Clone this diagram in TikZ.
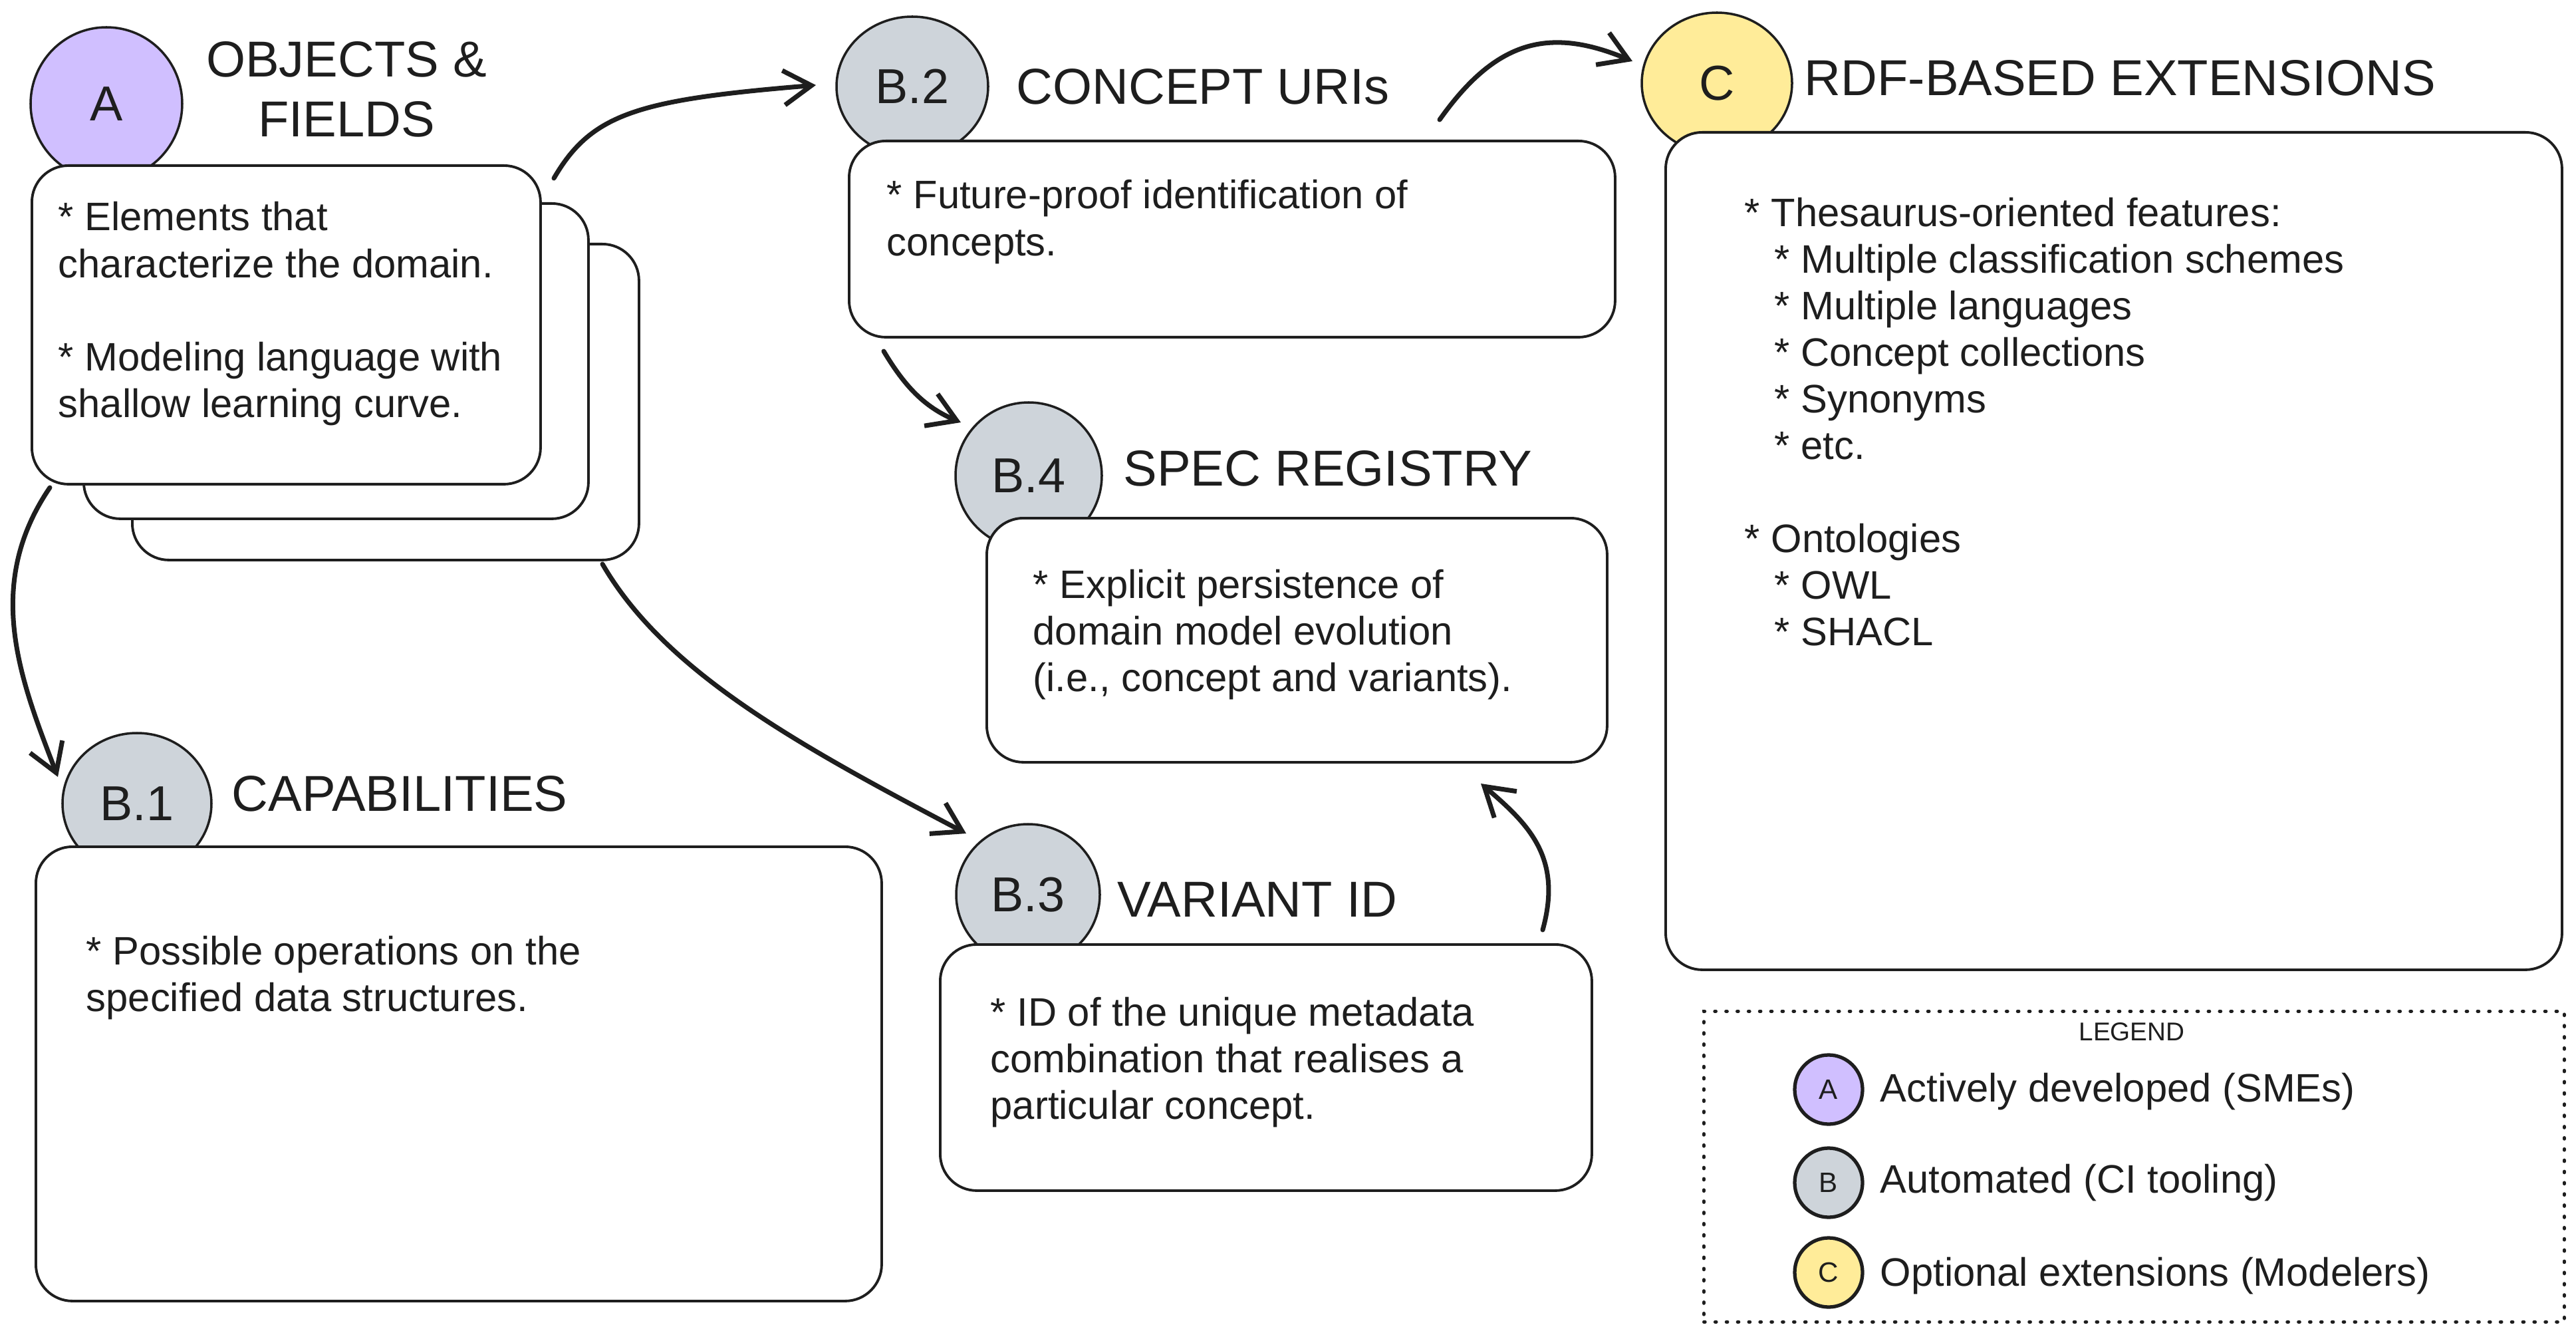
\documentclass[tikz,border=0pt]{standalone}
\usepackage{fontspec}
\setmainfont{Liberation Sans}
\usetikzlibrary{shapes.geometric,arrows.meta}
\definecolor{ink}{HTML}{1E1E1E}
\definecolor{violetA}{HTML}{D0BFFF}
\definecolor{grayB}{HTML}{CED4DA}
\definecolor{yellowC}{HTML}{FFEC99}
\newcommand{\bodyfont}{\fontsize{17}{19.92}\selectfont}
\newcommand{\titlefont}{\fontsize{21.6}{25.6}\selectfont}
\begin{document}
\begin{tikzpicture}[
  card/.style={rectangle, draw=ink, fill=white, line width=1.1pt, rounded corners=0.55cm, anchor=north west, inner sep=0pt},
  badge/.style={ellipse, draw=ink, line width=1pt, inner sep=0pt, text=ink, font=\fontsize{21}{25}\selectfont},
  minibadge/.style={ellipse, draw=ink, line width=1.5pt, inner sep=0pt, minimum width=1.02cm, minimum height=1.04cm, text=ink, font=\fontsize{12}{14}\selectfont},
  title/.style={anchor=base west, inner sep=0pt, text=ink, font=\titlefont},
  body/.style={anchor=north west, inner sep=0pt, align=left, text=ink, font=\bodyfont},
  legtext/.style={anchor=base west, inner sep=0pt, text=ink, font=\bodyfont},
  arr/.style={draw=ink, line width=2pt, line cap=round, line join=round, -{Straight Barb[length=0.42cm, width=0.52cm, line width=2pt]}}
]
\useasboundingbox (0,0) rectangle (38.74,-20.07);
\fill[white] (0,0) rectangle (38.74,-20.07);

% badges (drawn first, cards overlap them)
\node[badge, fill=violetA, minimum width=2.28cm, minimum height=2.30cm] (cA) at (1.60,-1.56) {A};
\node[badge, fill=grayB, minimum width=2.28cm, minimum height=2.10cm] (cB2) at (13.72,-1.30) {B.2};
\node[badge, fill=grayB, minimum width=2.20cm, minimum height=2.20cm] (cB4) at (15.47,-7.15) {B.4};
\node[badge, fill=grayB, minimum width=2.16cm, minimum height=2.12cm] (cB3) at (15.46,-13.45) {B.3};
\node[badge, fill=grayB, minimum width=2.24cm, minimum height=2.12cm] (cB1) at (2.06,-12.08) {B.1};
\node[badge, fill=yellowC, minimum width=2.26cm, minimum height=2.12cm] (cC) at (25.82,-1.25) {C};

% cards
\node[card, minimum width=7.62cm, minimum height=4.75cm] (boxA3) at (1.97,-3.65) {};
\node[card, minimum width=7.59cm, minimum height=4.74cm] (boxA2) at (1.24,-3.04) {};
\node[card, minimum width=7.65cm, minimum height=4.79cm] (boxA1) at (0.46,-2.47) {};
\node[card, minimum width=11.52cm, minimum height=2.95cm] (boxB2) at (12.75,-2.10) {};
\node[card, minimum width=9.33cm, minimum height=3.67cm] (boxB4) at (14.82,-7.77) {};
\node[card, minimum width=9.80cm, minimum height=3.70cm] (boxB3) at (14.12,-14.18) {};
\node[card, minimum width=12.72cm, minimum height=6.83cm] (boxB1) at (0.52,-12.71) {};
\node[card, minimum width=13.48cm, minimum height=12.59cm] (boxC) at (25.03,-1.97) {};

% titles
\node[anchor=north, inner sep=0pt, align=center, text=ink, font=\titlefont] (tiA) at (5.21,-0.62) {OBJECTS \&\\FIELDS};
\node[title] (tiB2) at (15.28,-1.57) {CONCEPT URIs};
\node[title] (tiB4) at (16.89,-7.31) {SPEC REGISTRY};
\node[title] (tiB3) at (16.80,-13.78) {VARIANT ID};
\node[title] (tiB1) at (3.48,-12.19) {CAPABILITIES};
\node[title] (tiC) at (27.13,-1.44) {RDF-BASED EXTENSIONS};

% body texts
\node[body] (tA) at (0.87,-3.03) {* Elements that\\characterize the domain.\\[19.92pt]* Modeling language with\\shallow learning curve.};
\node[body] (tB2) at (13.33,-2.70) {* Future-proof identification of\\concepts.};
\node[body] (tB4) at (15.53,-8.55) {* Explicit persistence of\\domain model evolution\\(i.e., concept and variants).};
\node[body] (tB3) at (14.89,-14.98) {* ID of the unique metadata\\combination that realises a\\particular concept.};
\node[body] (tB1) at (1.29,-14.06) {* Possible operations on the\\specified data structures.};
\node[body] (tC) at (26.23,-2.96) {* Thesaurus-oriented features:\\
\hspace*{0.45cm}* Multiple classification schemes\\
\hspace*{0.45cm}* Multiple languages\\
\hspace*{0.45cm}* Concept collections\\
\hspace*{0.45cm}* Synonyms\\
\hspace*{0.45cm}* etc.\\[19.92pt]
* Ontologies\\
\hspace*{0.45cm}* OWL\\
\hspace*{0.45cm}* SHACL};

% legend
\node[rectangle, draw=ink, line width=1.3pt, dash pattern=on 0.6pt off 4.2pt, line cap=round, anchor=north west, inner sep=0pt, minimum width=12.94cm, minimum height=4.67cm] (legend) at (25.60,-15.18) {};
\node[anchor=base, inner sep=0pt, text=ink, font=\fontsize{11}{13}\selectfont] (legtitle) at (32.06,-15.64) {LEGEND};
\node[minibadge, fill=violetA] (lA) at (27.50,-16.38) {A};
\node[minibadge, fill=grayB] (lB) at (27.50,-17.78) {B};
\node[minibadge, fill=yellowC] (lC) at (27.50,-19.13) {C};
\node[legtext] (ltA) at (28.27,-16.56) {Actively developed (SMEs)};
\node[legtext] (ltB) at (28.27,-17.93) {Automated (CI tooling)};
\node[legtext] (ltC) at (28.27,-19.33) {Optional extensions (Modelers)};

% arrow end points
\coordinate (a1s) at (8.33,-2.68);   \coordinate (a1e) at (12.27,-1.28);
\coordinate (a2s) at (21.65,-1.80);  \coordinate (a2e) at (24.55,-0.92);
\coordinate (a3s) at (13.29,-5.28);  \coordinate (a3e) at (14.45,-6.35);
\coordinate (a4s) at (0.75,-7.33);   \coordinate (a4e) at (0.87,-11.68);
\coordinate (a5s) at (9.06,-8.48);   \coordinate (a5e) at (14.53,-12.53);
\coordinate (a6s) at (23.20,-13.98); \coordinate (a6e) at (22.27,-11.78);

\draw[arr] (a1s) .. controls (8.90,-1.70) and (9.60,-1.50) .. (a1e);
\draw[arr] (a2s) .. controls (22.50,-0.60) and (23.30,-0.40) .. (a2e);
\draw[arr] (a3s) .. controls (13.60,-5.80) and (13.90,-6.12) .. (a3e);
\draw[arr] (a4s) .. controls (-0.25,-8.80) and (0.30,-10.20) .. (a4e);
\draw[arr] (a5s) .. controls (10.00,-10.10) and (12.00,-11.20) .. (a5e);
\draw[arr] (a6s) .. controls (23.50,-12.90) and (23.00,-12.40) .. (a6e);
\end{tikzpicture}
\end{document}
